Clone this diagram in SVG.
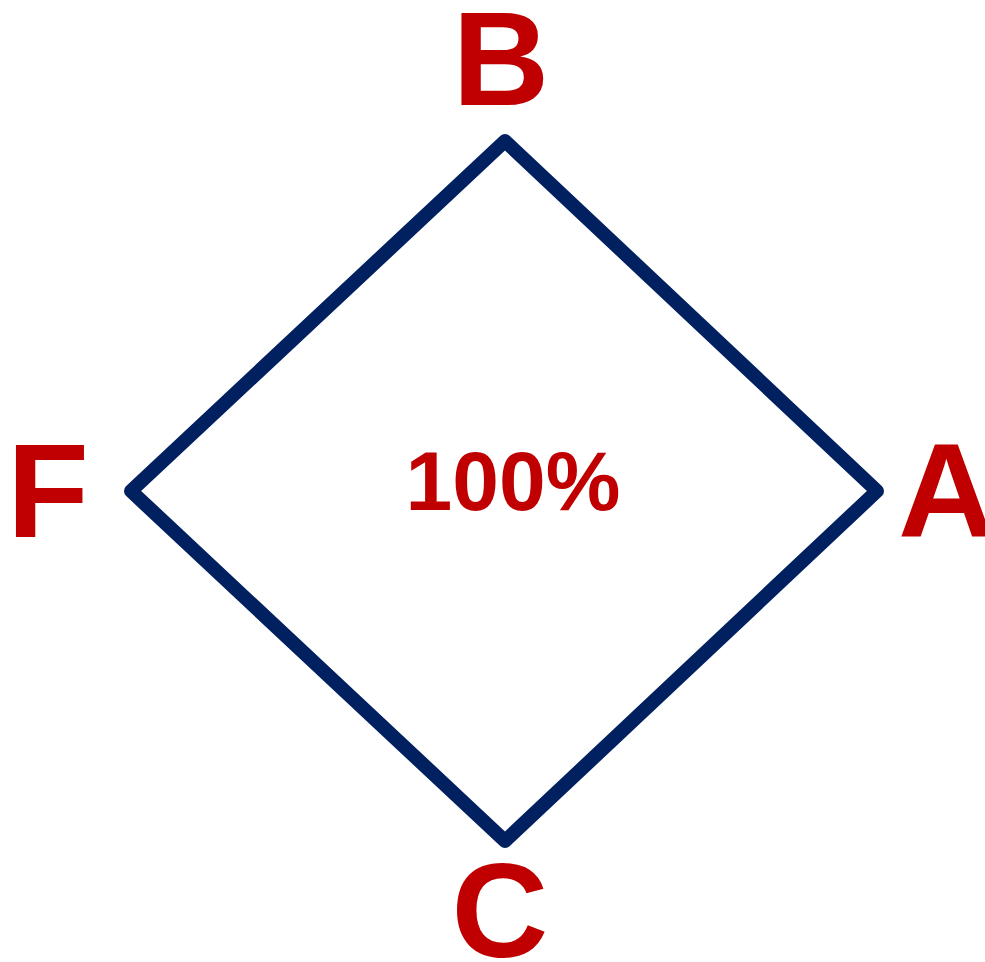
<svg xmlns="http://www.w3.org/2000/svg" width="985" height="962" viewBox="0 0 985 962">
<style>
.lbl{font-family:"Liberation Sans",Arial,sans-serif;font-weight:bold;fill:#C00000}
.big{font-size:134px}
.edge{fill:none;stroke:#002060;stroke-width:14;stroke-linejoin:round;stroke-linecap:round}
</style>
<rect width="985" height="962" fill="#FFFFFF"/>
<g id="connectors">
<polygon class="edge" points="505,141 877,491 505,841 131,491"/>
</g>
<g id="node-B"><text class="lbl big" x="501" y="105" text-anchor="middle">B</text></g>
<g id="node-A"><text class="lbl big" x="898" y="537">A</text></g>
<g id="node-C"><text class="lbl big" x="500" y="957" text-anchor="middle">C</text></g>
<g id="node-F"><text class="lbl big" x="7" y="537">F</text></g>
<g id="center"><text class="lbl" x="513" y="510" font-size="84" text-anchor="middle">100%</text></g>
</svg>
